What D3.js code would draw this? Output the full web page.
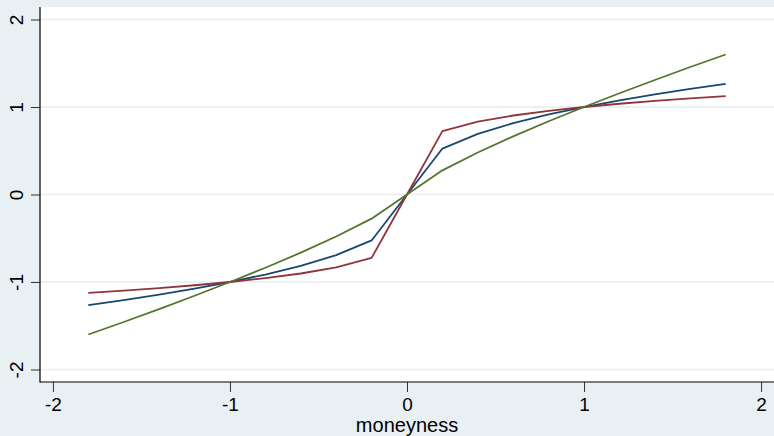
<!DOCTYPE html>
<html>
<head>
<meta charset="utf-8">
<script src="https://cdn.jsdelivr.net/npm/d3@7"></script>
<style>
  html, body { margin: 0; padding: 0; background: #e9f0f3; }
  svg { display: block; }
</style>
</head>
<body>
<svg id="chart" width="774" height="436"></svg>
<script>
// ---- data ----
const moneyness = [-1.8, -1.6, -1.4, -1.2, -1.0, -0.8, -0.6, -0.4, -0.2, 0, 0.2, 0.4, 0.6, 0.8, 1.0, 1.2, 1.4, 1.6, 1.8];
const seriesNavy = [-1.265, -1.207, -1.144, -1.076, -1.0, -0.915, -0.815, -0.693, -0.525, 0, 0.525, 0.693, 0.815, 0.915, 1.0, 1.076, 1.144, 1.207, 1.265];
const seriesMaroon = [-1.125, -1.099, -1.070, -1.037, -1.0, -0.956, -0.903, -0.833, -0.725, 0, 0.725, 0.833, 0.903, 0.956, 1.0, 1.037, 1.070, 1.099, 1.125];
const seriesGreen = [-1.600, -1.457, -1.309, -1.157, -1.0, -0.837, -0.665, -0.480, -0.276, 0, 0.276, 0.480, 0.665, 0.837, 1.0, 1.157, 1.309, 1.457, 1.600];
const xTicks = [-2, -1, 0, 1, 2];
const yTicks = [-2, -1, 0, 1, 2];
const xTickLabels = ["-2", "-1", "0", "1", "2"];
const yTickLabels = ["-2", "-1", "0", "1", "2"];
const xTitle = "moneyness";

const series = [
  { values: seriesNavy, color: "#1a476f" },
  { values: seriesMaroon, color: "#90353b" },
  { values: seriesGreen, color: "#55752f" }
];

// ---- layout ----
const svg = d3.select("#chart");
const W = 774, H = 436;
const plot = { left: 40, right: 774, top: 7, bottom: 382 };

svg.append("rect").attr("x", 0).attr("y", 0).attr("width", W).attr("height", H).attr("fill", "#e9f0f3");

const x = d3.scaleLinear().domain([-2.073, 2.073]).range([plot.left, plot.right]);
const y = d3.scaleLinear().domain([-2.143, 2.143]).range([plot.bottom, plot.top]);

// plot region
svg.append("rect")
  .attr("x", plot.left).attr("y", plot.top)
  .attr("width", plot.right - plot.left).attr("height", plot.bottom - plot.top)
  .attr("fill", "#ffffff");

// grid
svg.append("g").selectAll("line").data(yTicks).join("line")
  .attr("x1", plot.left).attr("x2", plot.right)
  .attr("y1", d => y(d)).attr("y2", d => y(d))
  .attr("stroke", "#e6eef1").attr("stroke-width", 1.5);

// lines
const line = d3.line().x((d, i) => x(moneyness[i])).y(d => y(d));
series.forEach(s => {
  svg.append("path").datum(s.values)
    .attr("d", line)
    .attr("fill", "none")
    .attr("stroke", s.color)
    .attr("stroke-width", 1.8)
    .attr("stroke-linejoin", "round");
});

// axes
const fontFam = "'Liberation Sans', Arial, Helvetica, sans-serif";

const xAxis = svg.append("g")
  .attr("transform", `translate(0,${plot.bottom})`)
  .call(d3.axisBottom(x).tickValues(xTicks).tickSize(10).tickSizeOuter(0)
    .tickFormat((d, i) => xTickLabels[i]));
xAxis.select(".domain").remove();
xAxis.selectAll(".tick line").attr("stroke", "#333").attr("stroke-width", 1);
xAxis.selectAll(".tick text")
  .attr("y", 28.5).attr("dy", 0)
  .attr("fill", "#000")
  .style("font-family", fontFam).style("font-size", "19px");

const yAxis = svg.append("g")
  .attr("transform", `translate(${plot.left},0)`)
  .call(d3.axisLeft(y).tickValues(yTicks).tickSize(9).tickSizeOuter(0)
    .tickFormat((d, i) => yTickLabels[i]));
yAxis.select(".domain").remove();
yAxis.selectAll(".tick line").attr("stroke", "#333").attr("stroke-width", 1);
yAxis.selectAll(".tick text")
  .attr("x", 0).attr("y", -17.5).attr("dy", 0)
  .attr("text-anchor", "middle")
  .attr("transform", "rotate(-90)")
  .attr("fill", "#000")
  .style("font-family", fontFam).style("font-size", "19px");

// axis lines
svg.append("line")
  .attr("x1", plot.left).attr("x2", plot.left)
  .attr("y1", plot.top).attr("y2", plot.bottom + 0.5)
  .attr("stroke", "#000").attr("stroke-width", 1.2);
svg.append("line")
  .attr("x1", plot.left).attr("x2", plot.right)
  .attr("y1", plot.bottom).attr("y2", plot.bottom)
  .attr("stroke", "#000").attr("stroke-width", 1.2);

// axis title
svg.append("text")
  .attr("x", x(0)).attr("y", 432)
  .attr("text-anchor", "middle")
  .attr("fill", "#000")
  .style("font-family", fontFam).style("font-size", "20px")
  .text(xTitle);
</script>
</body>
</html>
